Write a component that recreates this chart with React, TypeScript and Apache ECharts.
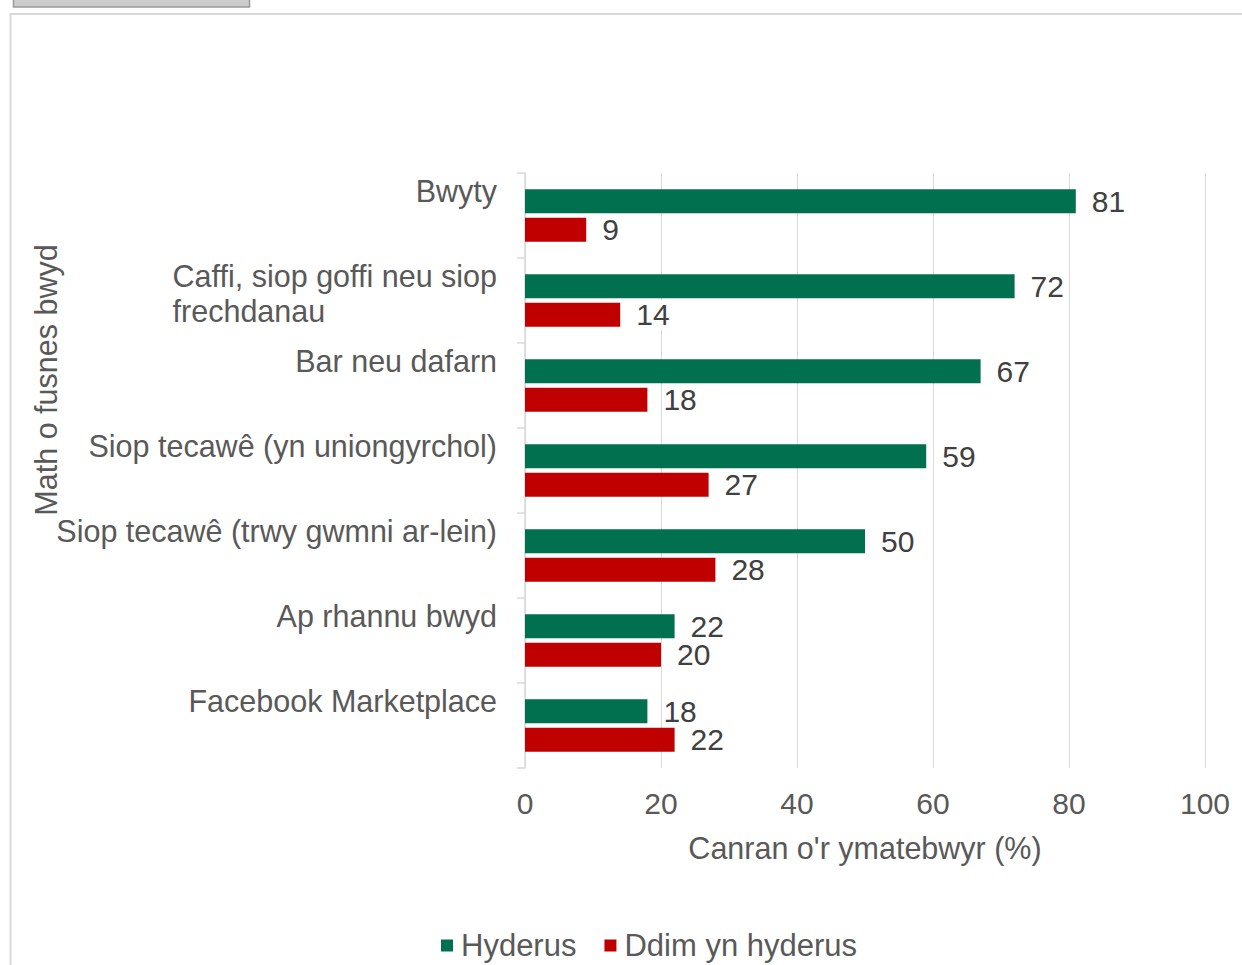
import React, { useEffect, useRef } from "react";
import * as echarts from "echarts";

const categories = [
  "Bwyty",
  "Caffi, siop goffi neu siop\nfrechdanau",
  "Bar neu dafarn",
  "Siop tecawê (yn uniongyrchol)",
  "Siop tecawê (trwy gwmni ar-lein)",
  "Ap rhannu bwyd",
  "Facebook Marketplace",
];
const hyderus = [81, 72, 67, 59, 50, 22, 18];
const ddimHyderus = [9, 14, 18, 27, 28, 20, 22];
const xTicks = { min: 0, max: 100, interval: 20 };
const seriesNames = ["Hyderus", "Ddim yn hyderus"];
const xTitle = "Canran o'r ymatebwyr (%)";
const yTitle = "Math o fusnes bwyd";

export default function App() {
  const ref = useRef<HTMLDivElement>(null);
  useEffect(() => {
    document.body.style.margin = "0";
    const chart = echarts.init(ref.current!, null, { renderer: "svg" });
    const labelStyle = {
      show: true,
      position: "right" as const,
      distance: 16,
      fontSize: 30,
      color: "#404040",
      fontFamily: "Liberation Sans",
      backgroundColor: "#ffffff",
    };
    chart.setOption({
      animation: false,
      textStyle: { fontFamily: "Liberation Sans" },
      graphic: [
        {
          type: "rect",
          shape: { x: 13.5, y: -4, width: 236, height: 11 },
          style: { fill: "#cccccc", stroke: "#999999", lineWidth: 1.5 },
        },
        {
          type: "rect",
          shape: { x: 10.5, y: 14, width: 1260, height: 1000 },
          style: { fill: "none", stroke: "#d9d9d9", lineWidth: 2 },
        },
        {
          type: "text",
          x: 46,
          y: 380,
          rotation: Math.PI / 2,
          style: {
            text: yTitle,
            fontSize: 30.5,
            fill: "#595959",
            fontFamily: "Liberation Sans",
            align: "center",
            verticalAlign: "middle",
          },
        },
      ],
      legend: {
        data: seriesNames,
        left: 441,
        top: 930,
        padding: 0,
        icon: "rect",
        itemWidth: 12,
        itemHeight: 12,
        itemGap: 28,
        textStyle: { fontSize: 31, color: "#595959", padding: [0, 0, 0, 3] },
      },
      grid: { left: 525, right: 37, top: 173, bottom: 197 },
      xAxis: {
        type: "value",
        min: xTicks.min,
        max: xTicks.max,
        interval: xTicks.interval,
        axisLine: { show: false },
        axisTick: { show: false },
        splitLine: { lineStyle: { color: "#d9d9d9", width: 1 } },
        axisLabel: { fontSize: 30, color: "#595959", margin: 20 },
        name: xTitle,
        nameLocation: "middle",
        nameGap: 64,
        nameTextStyle: { fontSize: 30.5, color: "#595959" },
      },
      yAxis: [
        {
          type: "category",
          inverse: true,
          data: categories,
          axisLine: { show: true, lineStyle: { color: "#d9d9d9", width: 1.5 } },
          axisTick: { show: true, length: 8, lineStyle: { color: "#d9d9d9", width: 1.5 } },
          axisLabel: { show: false },
          splitLine: { show: false },
        },
        {
          type: "category",
          inverse: true,
          boundaryGap: false,
          position: "left",
          data: [...categories, ""],
          axisLine: { show: false },
          axisTick: { show: false },
          splitLine: { show: false },
          axisLabel: {
            interval: 0,
            margin: 28,
            verticalAlign: "top",
            fontSize: 30.5,
            lineHeight: 35,
            color: "#595959",
            formatter: (v: string) =>
              v
                .split("\n")
                .map((l) => "{a|" + l + "}")
                .join("\n"),
            rich: {
              a: {
                align: "left",
                fontSize: 30.5,
                lineHeight: 35,
                color: "#595959",
                fontFamily: "Liberation Sans",
              },
            },
          },
        },
      ],
      series: [
        {
          name: seriesNames[0],
          type: "bar",
          yAxisIndex: 0,
          data: hyderus,
          barWidth: 24,
          barGap: "18%",
          itemStyle: { color: "#00704f" },
          label: labelStyle,
        },
        {
          name: seriesNames[1],
          type: "bar",
          yAxisIndex: 0,
          data: ddimHyderus,
          barWidth: 24,
          itemStyle: { color: "#c00000" },
          label: labelStyle,
        },
      ],
    });
    return () => chart.dispose();
  }, []);
  return (
    <div
      ref={ref}
      style={{ position: "absolute", left: 0, top: 0, width: 1242, height: 965 }}
    />
  );
}
